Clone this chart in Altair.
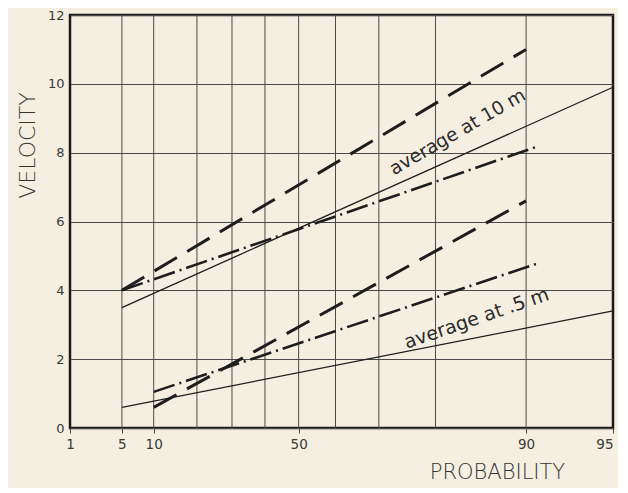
import math
import altair as alt
import pandas as pd

# ---- data (probability in %, velocity) ----
series = ["10 m upper", "10 m lower", "average at 10 m",
          ".5 m upper", ".5 m lower", "average at .5 m"]
styles = ["dash", "dashdot", "solid", "dash", "dashdot", "solid"]
prob_start = [5, 5, 5, 10, 10, 5]
prob_end = [90, 91, 95, 90, 91, 95]
vel_start = [4.0, 4.0, 3.5, 0.6, 1.05, 0.6]
vel_end = [11.0, 8.2, 9.9, 6.6, 4.8, 3.4]

x_tick_labels = [1, 5, 10, 50, 90, 95]
x_grid = [5, 10, 20, 30, 40, 50, 60, 70, 80, 90]
y_ticks = [0, 2, 4, 6, 8, 10, 12]

ann_text = ["average at 10 m", "average at .5 m"]
ann_prob = [84.5, 86.0]
ann_vel = [8.0, 2.66]

# ---- helpers: Gumbel (extreme value) probability paper ----
def gumbel(p):
    return -math.log(-math.log(p / 100.0))

GEXPR = "-log(-log(datum.p / 100))"
dom = [gumbel(1), gumbel(95)]

rows = []
for s, st, p0, p1, v0, v1 in zip(series, styles, prob_start, prob_end, vel_start, vel_end):
    rows.append(dict(series=s, style=st, p=p0, v=v0, o=0))
    rows.append(dict(series=s, style=st, p=p1, v=v1, o=1))
lines_df = pd.DataFrame(rows)
grid_df = pd.DataFrame({"p": x_grid})
ann_df = pd.DataFrame({"text": ann_text, "p": ann_prob, "v": ann_vel})

FONT = "DejaVu Sans"
INK = "#2a2a2a"

xscale = alt.Scale(domain=dom, nice=False, zero=False)
yscale = alt.Scale(domain=[0, 12], nice=False, zero=True)

x_axis = alt.Axis(
    values=[gumbel(p) for p in x_tick_labels],
    labelExpr="format(exp(-exp(-datum.value)) * 100, '.0f')",
    labelAlign=alt.ExprRef(expr="datum.value > 2.9 ? 'right' : 'center'"),
    grid=False, domain=False, ticks=True, tickSize=5, tickColor="#444",
    labelFont=FONT, labelFontSize=13.5, labelColor="#3a3a3a", labelPadding=4,
    labelFlush=False,
    title="PROBABILITY", titleFont=FONT, titleFontSize=21, titleFontWeight=200,
    titleColor="#333", titleX=427, titleY=44, titleAlign="center",
    titleBaseline="middle",
)
y_axis = alt.Axis(
    values=y_ticks, grid=True, gridColor="#4a4a4a", gridWidth=1,
    domain=False, ticks=False, labelFont=FONT, labelFontSize=13,
    labelColor="#3a3a3a", labelPadding=6,
    title="VELOCITY", titleFont=FONT, titleFontSize=22, titleFontWeight=200,
    titleColor="#333", titleX=-43, titleY=130, titleAlign="center",
    titleBaseline="middle", titleAngle=270,
)

X = alt.X("g:Q", scale=xscale, axis=x_axis)
Y = alt.Y("v:Q", scale=yscale, axis=y_axis)

grid = alt.Chart(grid_df).transform_calculate(g=GEXPR).mark_rule(
    color="#4a4a4a", strokeWidth=1
).encode(x=X)

base = alt.Chart(lines_df).transform_calculate(g=GEXPR)

def line_layer(style, dash, width):
    kw = dict(color="#1e1e1e", strokeWidth=width, strokeCap="butt")
    if dash:
        kw["strokeDash"] = dash
    return base.transform_filter(alt.datum.style == style).mark_line(**kw).encode(
        x=X, y=Y, detail="series:N", order="o:Q",
    )

dashed = line_layer("dash", [26, 12], 3)
dashdot = line_layer("dashdot", [22, 5, 2, 5], 2.6)
solid = line_layer("solid", None, 1.3)

def ann_layer(i, angle, size, dy):
    return alt.Chart(ann_df.iloc[[i]]).transform_calculate(g=GEXPR).mark_text(
        angle=angle, align="center", baseline="alphabetic", dy=dy,
        font=FONT, fontSize=size, color=INK,
    ).encode(x=X, y=Y, text="text:N")

ann1 = ann_layer(0, 330, 18.5, -18)
ann2 = ann_layer(1, 341, 19, -13)

chart = alt.layer(grid, dashed, dashdot, solid, ann1, ann2).properties(
    width=543, height=413,
    padding={"left": 62, "top": 7, "right": 5, "bottom": 60},
    autosize=alt.AutoSizeParams(type="none"),
    background="#f5efe1",
).configure_view(stroke="#1a1a1a", strokeWidth=2.5)

chart.save("out.html", embed_options={"renderer": "svg", "actions": False})
